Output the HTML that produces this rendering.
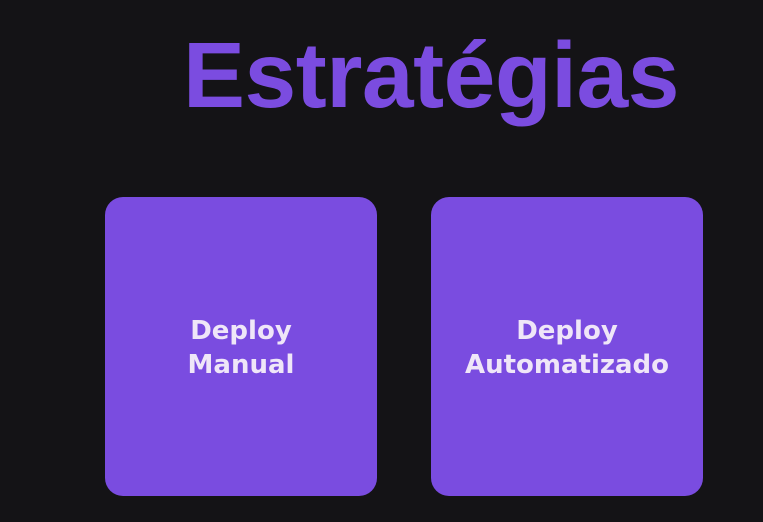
<!DOCTYPE html>
<html><head><meta charset="utf-8"><style>
html,body{margin:0;padding:0;}
body{width:763px;height:522px;background:#141316;position:relative;overflow:hidden;}
.t{position:absolute;left:183px;top:20px;font-family:"Liberation Sans",sans-serif;font-weight:bold;font-size:93px;color:#7b4ce0;letter-spacing:-0.5px;line-height:110px;white-space:nowrap;}
.b{position:absolute;top:197px;width:272px;height:299px;background:#7a4ce0;border-radius:18px;display:flex;align-items:center;justify-content:center;text-align:center;font-family:"DejaVu Sans",sans-serif;font-weight:bold;font-size:26px;line-height:34px;color:#efe6f8;}
</style></head><body>
<div class="t">Estratégias</div>
<div class="b" style="left:105px"><div style="margin-top:2px">Deploy<br>Manual</div></div>
<div class="b" style="left:431px"><div style="margin-top:2px">Deploy<br>Automatizado</div></div>
</body></html>
